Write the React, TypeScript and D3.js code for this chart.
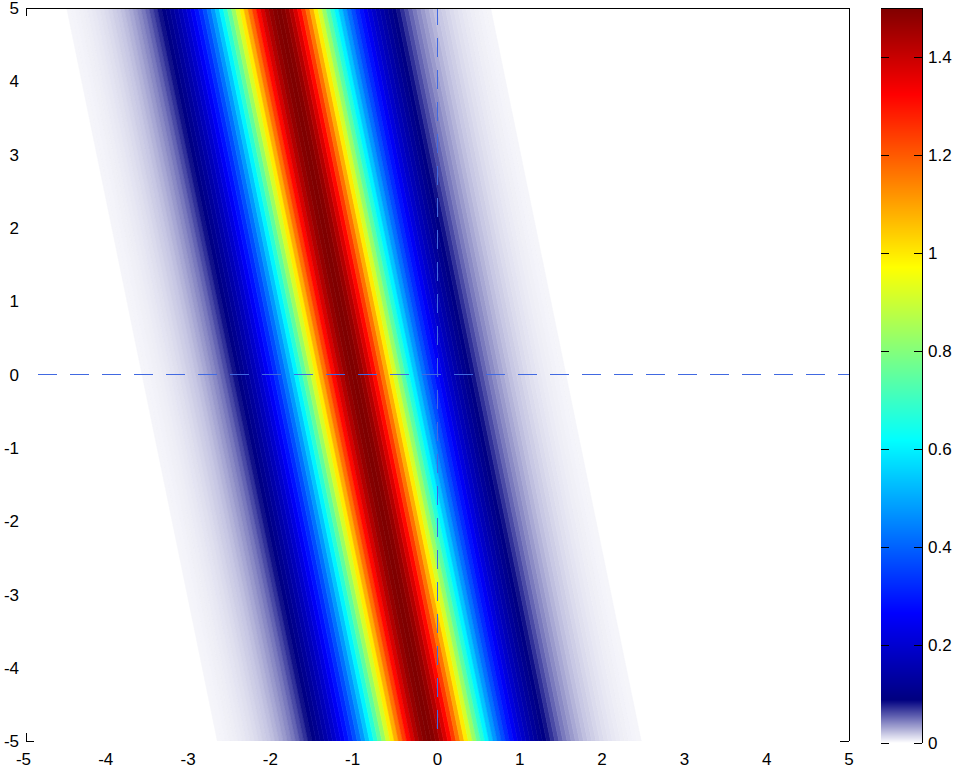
import React from 'react';
import * as d3 from 'd3';

// cross-section of the band (x offset from the band centre)
const profileStart = -2.55;
const profileStep = 0.05;
const profileValues = [
  0.0033, 0.0038, 0.0045, 0.0052, 0.006, 0.0069, 0.008, 0.0093, 0.0108, 0.0124,
  0.0144, 0.017, 0.019, 0.022, 0.026, 0.03, 0.035, 0.04, 0.046, 0.053,
  0.062, 0.071, 0.082, 0.095, 0.109, 0.126, 0.145, 0.166, 0.191, 0.219,
  0.25, 0.286, 0.326, 0.371, 0.421, 0.476, 0.537, 0.603, 0.674, 0.749,
  0.829, 0.912, 0.997, 1.081, 1.164, 1.242, 1.314, 1.377, 1.429, 1.468,
  1.492, 1.5, 1.492, 1.468, 1.429, 1.377, 1.314, 1.242, 1.164, 1.081,
  0.997, 0.912, 0.829, 0.749, 0.674, 0.603, 0.537, 0.476, 0.421, 0.371,
  0.326, 0.286, 0.25, 0.219, 0.191, 0.166, 0.145, 0.126, 0.109, 0.095,
  0.082, 0.071, 0.062, 0.053, 0.046, 0.04, 0.035, 0.03, 0.026, 0.022,
  0.019, 0.017, 0.0144, 0.0124, 0.0108, 0.0093, 0.008, 0.0069, 0.006, 0.0052,
  0.0045, 0.0038, 0.0033,
];

// band centre line: x at top and bottom of the plot
const bandCenterY = [5, -5];
const bandCenterX = [-1.93, -0.1];

const xTicks = [-5, -4, -3, -2, -1, 0, 1, 2, 3, 4, 5];
const yTicks = [-5, -4, -3, -2, -1, 0, 1, 2, 3, 4, 5];
const cbTicks = [0, 0.2, 0.4, 0.6, 0.8, 1, 1.2, 1.4];
const cbRange = [0, 1.5];

// white -> navy, then jet
const cmapStops = [0, 0.088, 0.2645, 0.6175, 0.9705, 1.3235, 1.5];
const cmapColors = ['#ffffff', '#000080', '#0000ff', '#00ffff', '#ffff00', '#ff0000', '#800000'];

const W = 958;
const H = 769;
const font = '"Liberation Sans", Arial, Helvetica, sans-serif';

const App = () => {
  const x = d3.scaleLinear().domain([-5, 5]).range([26, 849]);
  const y = d3.scaleLinear().domain([-5, 5]).range([741, 8]);
  const color = d3.scaleLinear<string>().domain(cmapStops).range(cmapColors).clamp(true);

  const cbX0 = 881;
  const cbX1 = 922;
  const cy = d3.scaleLinear().domain(cbRange).range([743, 8]);

  const h = profileStep / 2;
  const stripes = profileValues.map((v, i) => {
    const d = profileStart + i * profileStep;
    const pts = [
      [x(bandCenterX[0] + d - h), y(bandCenterY[0])],
      [x(bandCenterX[0] + d + h), y(bandCenterY[0])],
      [x(bandCenterX[1] + d + h), y(bandCenterY[1])],
      [x(bandCenterX[1] + d - h), y(bandCenterY[1])],
    ];
    return { v, pts: pts.map(p => p.join(',')).join(' ') };
  });

  // colorbar slices, one per pixel row
  const cbRows = d3.range(cy(cbRange[1]), cy(cbRange[0]), 1);

  const dashColor = '#4169e1';

  return (
    <svg width={W} height={H} style={{ position: 'absolute', left: 0, top: 0, display: 'block' }}
      fontFamily={font} fontSize={17}>
      <rect width={W} height={H} fill="#fff" />
      <defs>
        <clipPath id="plotClip">
          <rect x={x(-5)} y={y(5)} width={x(5) - x(-5)} height={y(-5) - y(5)} />
        </clipPath>
      </defs>

      <g clipPath="url(#plotClip)">
        {stripes.map((s, i) => (
          <polygon key={i} points={s.pts} fill={color(s.v)} stroke={color(s.v)} strokeWidth={0.6} />
        ))}
        {/* zero lines */}
        <line x1={x(-5)} x2={x(5)} y1={y(0)} y2={y(0)} stroke={dashColor}
          strokeWidth={1} strokeDasharray="19,13" strokeDashoffset={20} />
        <line x1={x(0)} x2={x(0)} y1={y(5)} y2={y(-5)} stroke={dashColor}
          strokeWidth={1} strokeDasharray="19,13" strokeDashoffset={2} />
      </g>

      {/* border: top and right, plus visible corner ticks */}
      <g stroke="#000" strokeWidth={1} shapeRendering="crispEdges">
        <line x1={x(-5)} x2={x(5)} y1={y(5)} y2={y(5)} />
        <line x1={x(5)} x2={x(5)} y1={y(5)} y2={y(-5)} />
        <line x1={x(-5)} x2={x(-5)} y1={y(5)} y2={y(5) + 8} />
        <line x1={x(-5)} x2={x(-5)} y1={y(-5) - 8} y2={y(-5)} />
        <line x1={x(-5)} x2={x(-5) + 8} y1={y(-5)} y2={y(-5)} />
        <line x1={x(5) - 9} x2={x(5)} y1={y(-5)} y2={y(-5)} />
      </g>

      {xTicks.map(t => (
        <text key={t} x={t < 0 ? x(t) + 5 : x(t)} y={765} textAnchor={t < 0 ? 'end' : 'middle'}>
          {t}
        </text>
      ))}
      {yTicks.map(t => (
        <text key={t} x={19} y={y(t)} dy="0.36em" textAnchor="end">
          {t}
        </text>
      ))}

      {/* colorbar */}
      <g shapeRendering="crispEdges">
        {cbRows.map(r => (
          <rect key={r} x={cbX0} y={r} width={cbX1 - cbX0} height={1.2} fill={color(cy.invert(r + 0.5))} />
        ))}
      </g>
      <g stroke="#000" strokeWidth={1} shapeRendering="crispEdges">
        <line x1={cbX0} x2={cbX1} y1={cy(1.5)} y2={cy(1.5)} />
        <line x1={cbX1} x2={cbX1} y1={cy(1.5)} y2={cy(0)} />
        {cbTicks.map(t => (
          <g key={t}>
            <line x1={cbX0} x2={cbX0 + 8} y1={cy(t)} y2={cy(t)} />
            <line x1={cbX1 - 8} x2={cbX1} y1={cy(t)} y2={cy(t)} />
          </g>
        ))}
      </g>
      {cbTicks.map(t => (
        <text key={t} x={928} y={cy(t)} dy="0.36em" textAnchor="start">
          {t}
        </text>
      ))}
    </svg>
  );
};

export default App;
